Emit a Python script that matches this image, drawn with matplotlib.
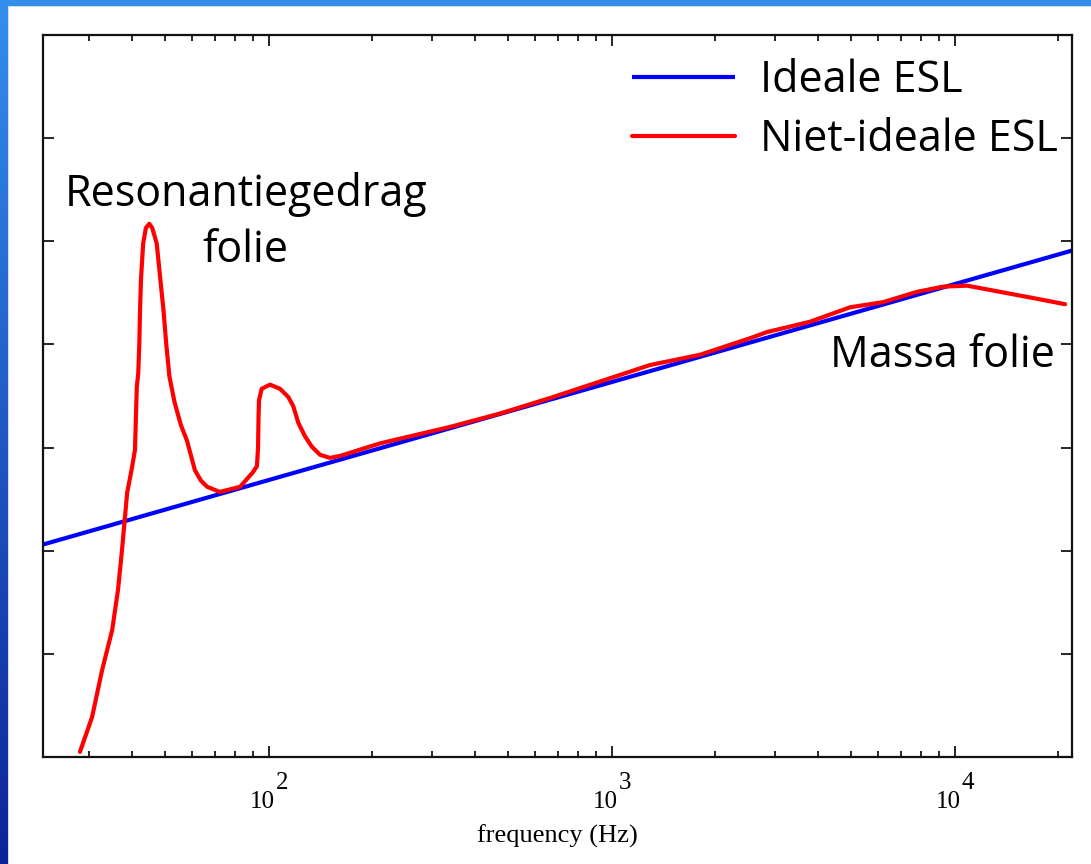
import numpy as np
import matplotlib
matplotlib.use("Agg")
import matplotlib.pyplot as plt
from matplotlib.patches import Rectangle
from matplotlib.ticker import FixedLocator, LogLocator, NullFormatter

# ---- data ----
ideal_freq = [22, 22000]
ideal_level = [2.06, 4.91]

real_freq = [28.2, 30.6, 32.7, 35.0, 36.4, 37.4, 38.7, 40.0, 40.8, 41.1, 41.3, 41.7,
             42.0, 42.2, 42.5, 43.1, 43.9, 44.9, 45.8, 47.2, 48.3, 49.4, 50.3, 51.4,
             53.2, 55.5, 57.8, 61.0, 63.5, 66.2, 72.1, 82.6, 90.0, 92.5, 93.2, 93.5, 93.8,
             95.5, 101.0, 108.0, 114.2, 118.1, 122.1, 127.7, 133.6, 141.3, 151.1, 162,
             211, 338, 473, 661, 925, 1294, 1811, 2533, 2840,
             3790, 4960, 6190, 7780, 9250, 10870, 13570, 16930, 21000]
real_level = [0.05, 0.39, 0.84, 1.23, 1.62, 2.01, 2.56, 2.81, 2.98, 3.36, 3.59, 3.72,
              4.01, 4.33, 4.65, 4.98, 5.13, 5.17, 5.13, 4.98, 4.65, 4.33, 4.01, 3.69,
              3.44, 3.22, 3.07, 2.78, 2.68, 2.62, 2.57, 2.62, 2.76, 2.82, 3.00, 3.30, 3.46,
              3.57, 3.61, 3.57, 3.49, 3.40, 3.24, 3.11, 3.01, 2.93, 2.90, 2.92,
              3.04, 3.20, 3.33, 3.48, 3.64, 3.80, 3.90, 4.06, 4.12,
              4.22, 4.36, 4.41, 4.51, 4.56, 4.57, 4.51, 4.45, 4.39]

x_major = [100, 1000, 10000]
x_major_base = ["10", "10", "10"]
x_major_exp = ["2", "3", "4"]
y_ticks = [0, 1, 2, 3, 4, 5, 6, 7]

# ---- figure ----
W, H = 1091, 864
fig = plt.figure(figsize=(W / 100, H / 100), dpi=100)

# background frame: blue gradient on left and top
bg = fig.add_axes([0, 0, 1, 1])
bg.set_axis_off()
grad = np.linspace(0, 1, 256).reshape(-1, 1)
top_c = np.array([0.20, 0.56, 0.93])
bot_c = np.array([0.05, 0.14, 0.60])
img = top_c[None, None, :] * (1 - grad[:, :, None]) + bot_c[None, None, :] * grad[:, :, None]
bg.imshow(img, aspect="auto", extent=[0, 1, 0, 1], origin="upper")
bg.set_xlim(0, 1)
bg.set_ylim(0, 1)
bg.add_patch(Rectangle((8 / W, 0), 1, 1 - 6 / H, facecolor="#d8d8d8", edgecolor="none"))
bg.add_patch(Rectangle((9 / W, 0), 1, 1 - 7 / H, facecolor="white", edgecolor="none"))

ax = fig.add_axes([43 / W, 1 - 757 / H, (1072 - 43) / W, (757 - 35) / H])
ax.set_xscale("log")
ax.set_xlim(22, 22000)
ax.set_ylim(0, 7)

ax.plot(ideal_freq, ideal_level, color="#0000ff", lw=3.0, label="Ideale ESL", solid_capstyle="butt")
ax.plot(real_freq, real_level, color="#ff0000", lw=3.0, label="Niet-ideale ESL",
        solid_joinstyle="round", solid_capstyle="round")

for s in ax.spines.values():
    s.set_linewidth(1.6)
    s.set_color("#111111")

ax.xaxis.set_major_locator(FixedLocator(x_major))
ax.xaxis.set_major_formatter(NullFormatter())
ax.xaxis.set_minor_locator(LogLocator(base=10, subs=np.arange(2, 10)))
ax.xaxis.set_minor_formatter(NullFormatter())
ax.set_yticks(y_ticks)
ax.set_yticklabels([])
ax.tick_params(which="major", direction="in", length=8, width=1.2, top=True, right=True)
ax.tick_params(which="minor", direction="in", length=4, width=1.2, top=True, right=True)

serif = "Liberation Serif"
for v, b, e in zip(x_major, x_major_base, x_major_exp):
    ax.annotate(b, xy=(v, 0), xycoords=("data", "axes fraction"), xytext=(6, -45),
                textcoords="offset pixels", ha="right", va="center", family=serif, fontsize=18)
    ax.annotate(e, xy=(v, 0), xycoords=("data", "axes fraction"), xytext=(7, -26),
                textcoords="offset pixels", ha="left", va="center", family=serif, fontsize=18)

ax.set_xlabel("frequency (Hz)", family=serif, fontsize=19, labelpad=45)

txt_font = "Open Sans"
ax.text(0.197, 0.763, "Resonantiegedrag", transform=ax.transAxes,
        ha="center", va="baseline", fontsize=31, family=txt_font)
ax.text(0.197, 0.686, "folie", transform=ax.transAxes,
        ha="center", va="baseline", fontsize=31, family=txt_font)
ax.text(0.9835, 0.540, "Massa folie", transform=ax.transAxes, ha="right", va="baseline",
        fontsize=31, family=txt_font)

leg = ax.legend(loc="upper right", frameon=False, prop={"family": txt_font, "size": 31},
                bbox_to_anchor=(1 - 14 / 1029, 1 - 24 / 722), borderaxespad=0, borderpad=0,
                handlelength=2.4, handletextpad=0.58, labelspacing=0.32)

fig.savefig("out.png", dpi=100)
